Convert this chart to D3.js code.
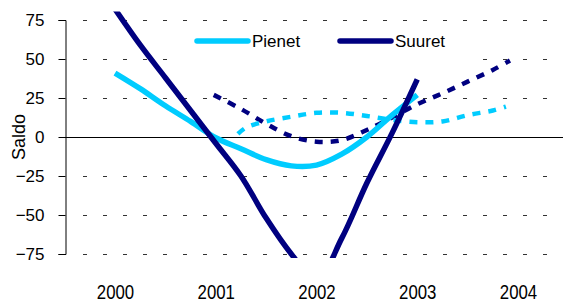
<!DOCTYPE html>
<html>
<head>
<meta charset="utf-8">
<script src="https://cdn.jsdelivr.net/npm/d3@7"></script>
<style>
  body { margin: 0; background: #fff; }
  svg text { font-family: "Liberation Sans", Arial, sans-serif; fill: #000; }
</style>
</head>
<body>
<div id="chart"></div>
<script>
// years on the x axis
const years = [2000, 2001, 2002, 2003, 2004];
const yTicks = [-75, -50, -25, 0, 25, 50, 75];

// Pienet, actual (solid)
const pienetT = [2000, 2000.25, 2000.5, 2000.75, 2001, 2001.25, 2001.5, 2001.75, 2002, 2002.25, 2002.5, 2002.75, 2003];
const pienetV = [41, 31, 20, 10, -0.5, -7.5, -14.5, -18.5, -18, -11, 0, 14, 27];
// Pienet, forecast (dashed)
const pienetFT = [2001.22, 2001.3, 2001.5, 2001.75, 2002, 2002.25, 2002.5, 2002.75, 2003, 2003.25, 2003.5, 2003.75, 2003.88];
const pienetFV = [2, 6, 10, 13, 15.5, 15.5, 13.5, 11, 9.5, 10, 14, 17, 19.5];

// Suuret, actual (solid)
const suuretT = [2000, 2000.25, 2000.5, 2000.75, 2001, 2001.25, 2001.5, 2001.75, 2002, 2002.25, 2002.5, 2002.75, 2003];
const suuretV = [82, 59, 38, 17, -4, -25, -52, -75, -92, -65, -29.5, 2.5, 37];
// Suuret, forecast (dashed)
const suuretFT = [2000.98, 2001.25, 2001.5, 2001.75, 2002, 2002.25, 2002.5, 2002.75, 2003, 2003.25, 2003.5, 2003.75, 2003.92];
const suuretFV = [27, 18, 8.5, 0.5, -3, -2, 4.5, 12.5, 21, 28, 35.5, 43, 49];

const series = [
  { name: "Pienet", color: "#00ccff", t: pienetT, v: pienetV, dash: null },
  { name: "Suuret", color: "#000080", t: suuretT, v: suuretV, dash: null },
  { name: "Pienet", color: "#00ccff", t: pienetFT, v: pienetFV, dash: "8,8" },
  { name: "Suuret", color: "#000080", t: suuretFT, v: suuretFV, dash: "8,8" }
];

const width = 563, height = 307;
const left = 65, right = 563;

const svg = d3.select("#chart").append("svg")
  .attr("width", width)
  .attr("height", height);

const x = d3.scaleLinear().domain([2000, 2004]).range([115, 518]);
const y = d3.scaleLinear().domain([-75, 75]).range([254, 20]);

// dashed gridlines
svg.append("g")
  .selectAll("line")
  .data(yTicks.filter(d => d !== 0))
  .enter().append("line")
  .attr("x1", left + 18)
  .attr("x2", right)
  .attr("y1", d => Math.round(y(d)) + 0.5)
  .attr("y2", d => Math.round(y(d)) + 0.5)
  .attr("stroke", "#333")
  .attr("stroke-width", 1)
  .attr("stroke-dasharray", "4,16");

// zero line
svg.append("line")
  .attr("x1", left)
  .attr("x2", right)
  .attr("y1", Math.round(y(0)) + 0.5)
  .attr("y2", Math.round(y(0)) + 0.5)
  .attr("stroke", "#000")
  .attr("stroke-width", 1);

// y axis
const yAxis = svg.append("g")
  .attr("transform", `translate(${left + 0.5},0)`)
  .call(d3.axisLeft(y).tickValues(yTicks).tickSize(7).tickPadding(14));
yAxis.select(".domain").attr("stroke", "#000");
yAxis.selectAll(".tick line").attr("stroke", "#000");
yAxis.selectAll("text").attr("font-size", 17).attr("font-family", null);

svg.append("text")
  .attr("transform", `translate(25,${y(0)}) rotate(-90)`)
  .attr("text-anchor", "middle")
  .attr("font-size", 18)
  .text("Saldo");

// x labels (narrow look)
const xAxis = svg.append("g")
  .attr("transform", "translate(0,284)")
  .call(d3.axisBottom(x).tickValues(years).tickFormat(d3.format("d")).tickSize(0).tickPadding(0));
xAxis.select(".domain").remove();
xAxis.selectAll("text")
  .attr("font-size", 20.5)
  .attr("font-family", null)
  .attr("transform", "scale(0.82,1)");

// plot clip
svg.append("clipPath").attr("id", "plot")
  .append("rect")
  .attr("x", left)
  .attr("y", y(80.5))
  .attr("width", right - left)
  .attr("height", y(-77.5) - y(80.5));

const line = d3.line()
  .x(d => x(d[0]))
  .y(d => y(d[1]))
  .curve(d3.curveCatmullRom);

// dashed forecasts under, actuals on top
const order = [3, 2, 0, 1];
svg.append("g")
  .attr("clip-path", "url(#plot)")
  .selectAll("path")
  .data(order.map(i => series[i]))
  .enter().append("path")
  .attr("d", s => line(s.t.map((t, i) => [t, s.v[i]])))
  .attr("fill", "none")
  .attr("stroke", s => s.color)
  .attr("stroke-width", s => s.dash ? 4.5 : 5.5)
  .attr("stroke-dasharray", s => s.dash);

// legend
const legend = svg.append("g");
legend.append("rect")
  .attr("x", 170).attr("y", 26)
  .attr("width", 302).attr("height", 40)
  .attr("fill", "#fff");

const items = legend.selectAll("g.item")
  .data(series.slice(0, 2))
  .enter().append("g")
  .attr("class", "item")
  .attr("transform", (d, i) => `translate(${i === 0 ? 197 : 340},41)`);

items.append("line")
  .attr("x1", 0).attr("x2", 51)
  .attr("stroke", d => d.color)
  .attr("stroke-width", 5.5)
  .attr("stroke-linecap", "round");

items.append("text")
  .attr("x", 55)
  .attr("y", 6)
  .attr("font-size", 17)
  .text(d => d.name);
</script>
</body>
</html>
